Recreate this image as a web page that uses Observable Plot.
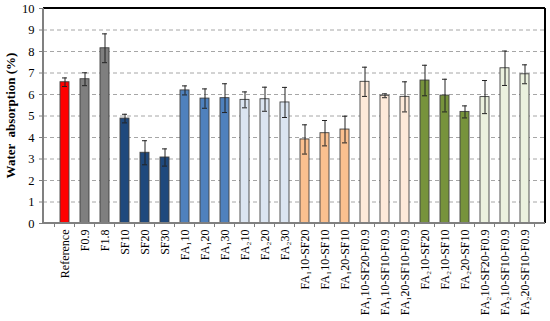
<!DOCTYPE html>
<html><head><meta charset="utf-8">
<script src="https://cdn.jsdelivr.net/npm/d3@7"></script>
<script src="https://cdn.jsdelivr.net/npm/@observablehq/plot@0.6"></script>
<style>body{margin:0;background:#fff}</style>
</head><body><div id="chart"></div>
<script>
const categories = ["Reference","F0.9","F1.8","SF10","SF20","SF30","FA₁10","FA₁20","FA₁30","FA₂10","FA₂20","FA₂30",
  "FA₁10-SF20","FA₁10-SF10","FA₁20-SF10","FA₁10-SF20-F0.9","FA₁10-SF10-F0.9","FA₁20-SF10-F0.9",
  "FA₂10-SF20","FA₂10-SF10","FA₂20-SF10","FA₂10-SF20-F0.9","FA₂10-SF10-F0.9","FA₂20-SF10-F0.9"];
const values = [6.57,6.71,8.15,4.88,3.29,3.07,6.19,5.81,5.83,5.75,5.78,5.63,3.91,4.20,4.37,6.59,5.94,5.89,6.65,5.95,5.19,5.88,7.22,6.94];
const errors = [0.20,0.30,0.67,0.20,0.56,0.40,0.21,0.45,0.67,0.37,0.56,0.70,0.68,0.59,0.62,0.68,0.09,0.70,0.71,0.76,0.28,0.77,0.80,0.44];
const groups = ["ref","F","F","SF","SF","SF","FA1","FA1","FA1","FA2","FA2","FA2","FA1SF","FA1SF","FA1SF","FA1SFF","FA1SFF","FA1SFF","FA2SF","FA2SF","FA2SF","FA2SFF","FA2SFF","FA2SFF"];
const groupNames = ["ref","F","SF","FA1","FA2","FA1SF","FA1SFF","FA2SF","FA2SFF"];
const groupColors = ["#ff0000","#7f7f7f","#1f497d","#4f81bd","#dbe5f1","#fac08f","#fde9d9","#77933c","#ebf1de"];
const yTicks = [0,1,2,3,4,5,6,7,8,9,10];
const gridTicks = [1,2,3,4,5,6,7,8,9];
const yLabel = "Water  absorption (%)";

const data = categories.map((c, i) => ({cat: c, v: values[i], e: errors[i], g: groups[i]}));
const font = "'Liberation Serif', 'Times New Roman', serif";

function decorations(index, scales, vals, dim) {
  const {width, height, marginLeft, marginRight, marginTop, marginBottom} = dim;
  const g = d3.create("svg:g");
  const x0 = marginLeft, x1 = width - marginRight, y0 = marginTop, y1 = height - marginBottom;
  const step = scales.x.step ? scales.x.step() : (x1 - x0) / categories.length;
  const bw = scales.x.bandwidth ? scales.x.bandwidth() : 0;
  const bounds = categories.map(c => scales.x(c) + bw / 2 - step / 2);
  bounds.push(scales.x(categories[categories.length - 1]) + bw / 2 + step / 2);
  for (const b of bounds) {
    g.append("line").attr("x1", b).attr("x2", b).attr("y1", y1).attr("y2", y1 + 4)
      .attr("stroke", "#808080").attr("stroke-width", 1);
  }
  g.append("line").attr("x1", x0).attr("x2", x1).attr("y1", y0).attr("y2", y0).attr("stroke", "#000").attr("stroke-width", 2);
  g.append("line").attr("x1", x1).attr("x2", x1).attr("y1", y0).attr("y2", y1).attr("stroke", "#000").attr("stroke-width", 2);
  g.append("line").attr("x1", x0).attr("x2", x0).attr("y1", y0).attr("y2", y1).attr("stroke", "#808080").attr("stroke-width", 2);
  g.append("line").attr("x1", x0).attr("x2", x1).attr("y1", y1).attr("y2", y1).attr("stroke", "#808080").attr("stroke-width", 2);
  g.append("text").attr("transform", `translate(12,${(y0 + y1) / 2}) rotate(-90)`)
    .attr("text-anchor", "middle").attr("dominant-baseline", "middle")
    .style("font-family", font).style("font-weight", "bold").style("font-size", "13px")
    .style("white-space", "pre").attr("fill", "#000")
    .text(yLabel);
  return g.node();
}

const chart = Plot.plot({
  width: 550, height: 321,
  marginLeft: 43, marginRight: 5, marginTop: 8, marginBottom: 98,
  style: {fontFamily: font, fontSize: "12px", color: "#000", background: "#fff"},
  x: {domain: categories, paddingInner: 0.55, paddingOuter: 0.275, label: null},
  y: {domain: [0, 10], label: null},
  color: {domain: groupNames, range: groupColors},
  marks: [
    Plot.ruleY(gridTicks, {stroke: "#a6a6a6", strokeWidth: 1, strokeDasharray: "4,3"}),
    Plot.barY(data, {x: "cat", y: "v", fill: "g", stroke: "#404040", strokeWidth: 0.9}),
    Plot.ruleX(data, {x: "cat", y1: d => d.v - d.e, y2: d => d.v + d.e, stroke: "#222", strokeWidth: 1}),
    Plot.tickY(data, {x: "cat", y: d => d.v + d.e, stroke: "#222", strokeWidth: 1, insetLeft: 7, insetRight: 7}),
    Plot.tickY(data, {x: "cat", y: d => d.v - d.e, stroke: "#222", strokeWidth: 1, insetLeft: 7, insetRight: 7}),
    Plot.axisY({ticks: yTicks, tickSize: 4, tickPadding: 5, stroke: "#808080", label: null, fontSize: 12.5, fill: "#000"}),
    Plot.axisX({tickSize: 0, tickRotate: -90, tickPadding: 6, label: null, fontSize: 12, fill: "#000"}),
    decorations
  ]
});
document.getElementById("chart").appendChild(chart);
</script>
</body></html>
